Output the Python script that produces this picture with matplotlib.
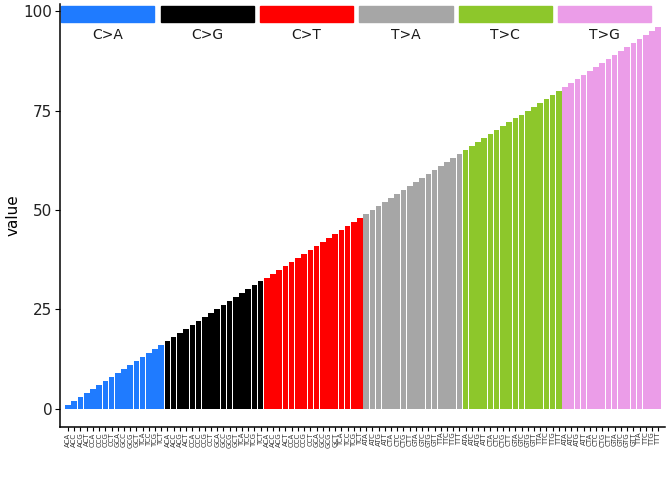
import matplotlib
matplotlib.use('Agg')
import matplotlib.pyplot as plt
import numpy as np

##### DATA ######
mutation_types = ['C>A', 'C>G', 'C>T', 'T>A', 'T>C', 'T>G']
type_colors = ['#1F7BFF', '#000000', '#FF0000', '#A6A6A6', '#8DC72B', '#EB9DE8']

c_contexts = ['ACA', 'ACC', 'ACG', 'ACT', 'CCA', 'CCC', 'CCG', 'CCT',
              'GCA', 'GCC', 'GCG', 'GCT', 'TCA', 'TCC', 'TCG', 'TCT']
t_contexts = ['ATA', 'ATC', 'ATG', 'ATT', 'CTA', 'CTC', 'CTG', 'CTT',
              'GTA', 'GTC', 'GTG', 'GTT', 'TTA', 'TTC', 'TTG', 'TTT']

values_CA = [1, 2, 3, 4, 5, 6, 7, 8, 9, 10, 11, 12, 13, 14, 15, 16]
values_CG = [17, 18, 19, 20, 21, 22, 23, 24, 25, 26, 27, 28, 29, 30, 31, 32]
values_CT = [33, 34, 35, 36, 37, 38, 39, 40, 41, 42, 43, 44, 45, 46, 47, 48]
values_TA = [49, 50, 51, 52, 53, 54, 55, 56, 57, 58, 59, 60, 61, 62, 63, 64]
values_TC = [65, 66, 67, 68, 69, 70, 71, 72, 73, 74, 75, 76, 77, 78, 79, 80]
values_TG = [81, 82, 83, 84, 85, 86, 87, 88, 89, 90, 91, 92, 93, 94, 95, 96]

yticks = [0, 25, 50, 75, 100]

###### PLOT ######
def plot():
	groups = [values_CA, values_CG, values_CT, values_TA, values_TC, values_TG]
	labels = c_contexts * 3 + t_contexts * 3
	values = [v for g in groups for v in g]
	colors = [type_colors[k] for k, g in enumerate(groups) for _ in g]
	x = np.arange(len(values))

	fig = plt.figure(figsize=(6.72, 4.8), dpi=100)
	ax = fig.add_axes([60 / 672, 1 - 427 / 480, 605 / 672, 423 / 480])

	ax.bar(x, values, width=0.9, color=colors)

	# coloured header strips with mutation type labels
	for k, name in enumerate(mutation_types):
		ax.add_patch(plt.Rectangle((16 * k - 1.1, 97.3), 15.0, 4.0,
		                           color=type_colors[k], clip_on=False))
		ax.text(16 * k + 6.4, 94.1, name, ha='center', va='center',
		        fontsize=10, color='#1a1a1a')

	ax.set_xlim(-1.3, 96.1)
	ax.set_ylim(-4.6, 101.8)
	ax.set_xticks(x)
	ax.set_xticklabels(labels, rotation=90, fontsize=5, color='#333333')
	ax.set_yticks(yticks)
	ax.set_yticklabels([str(t) for t in yticks], fontsize=11, color='#222222')
	ax.set_ylabel('value', fontsize=11)
	ax.yaxis.set_label_coords(-0.065, 0.5)
	ax.tick_params(axis='x', length=3, width=0.8, pad=1)
	ax.tick_params(axis='y', length=3.5, width=0.8, pad=2)
	for side in ['top', 'right']:
		ax.spines[side].set_visible(False)
	for side in ['left', 'bottom']:
		ax.spines[side].set_linewidth(1.1)

	fig.savefig('out.png', dpi=100)
	plt.close(fig)

plot()
